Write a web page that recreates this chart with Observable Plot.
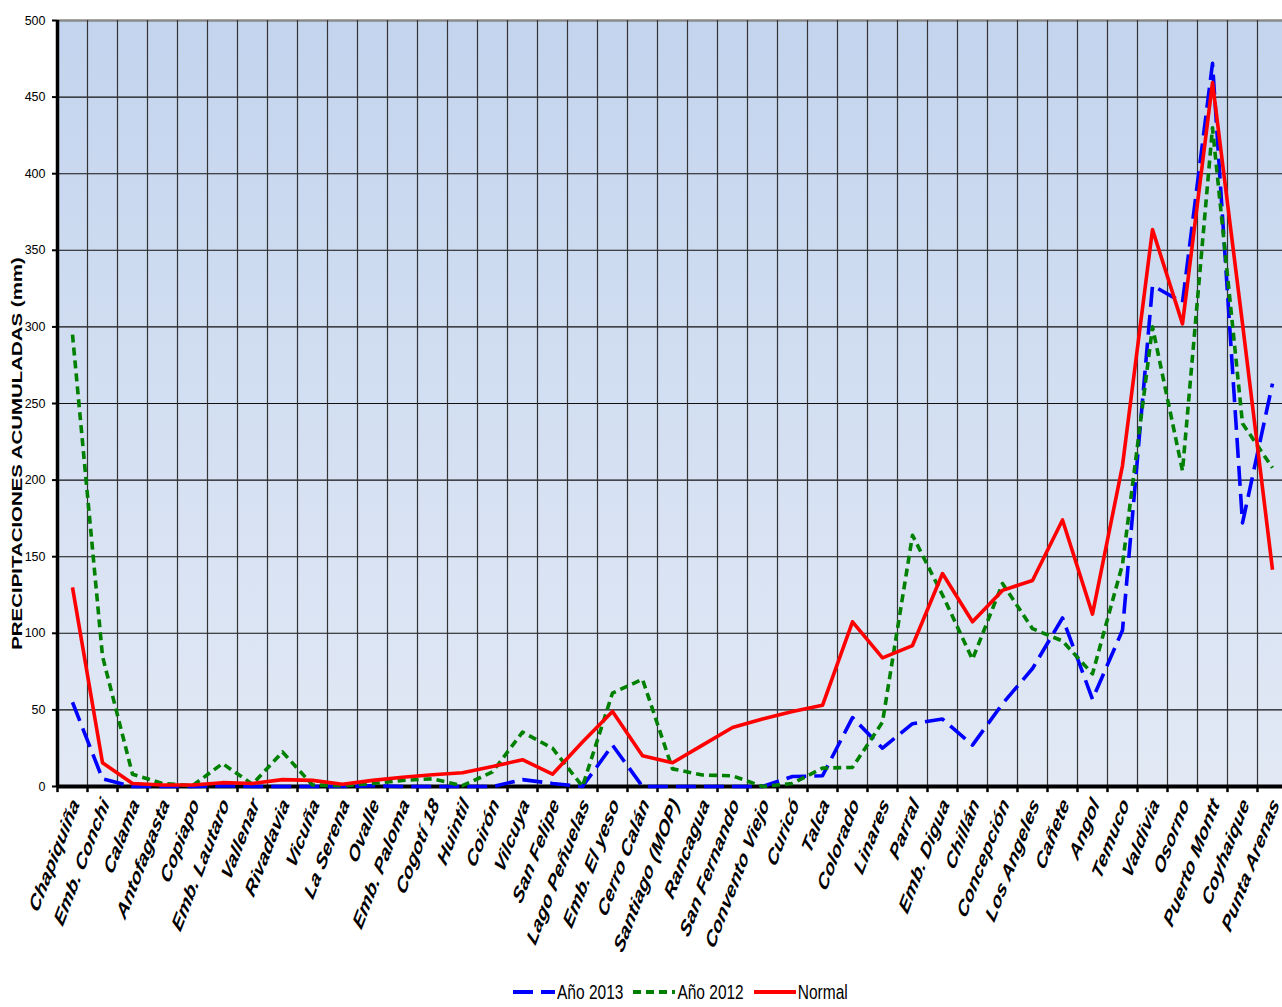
<!DOCTYPE html>
<html>
<head>
<meta charset="utf-8">
<script src="https://cdn.jsdelivr.net/npm/d3@7"></script>
<script src="https://cdn.jsdelivr.net/npm/@observablehq/plot@0.6"></script>
<style>
  html, body { margin: 0; padding: 0; background: #ffffff; color: #000; }
  body { width: 1282px; height: 1007px; overflow: hidden; position: relative; font-family: "Liberation Sans", Arial, sans-serif; }
  #chart svg { display: block; }
  #legend { position: absolute; left: 513px; top: 983px; display: flex; align-items: center; font-size: 15.5px; }
  #legend .item { display: flex; align-items: center; margin-right: 10px; }
  #legend .lab { display: inline-block; transform: scaleY(1.35); margin-left: 2px; }
</style>
</head>
<body>
<div id="chart"></div>
<div id="legend"></div>
<script>
const stations = ["Chapiquiña","Emb. Conchi","Calama","Antofagasta","Copiapo","Emb. Lautaro","Vallenar","Rivadavia","Vicuña","La Serena","Ovalle","Emb. Paloma","Cogotí 18","Huintil","Coirón","Vilcuya","San Felipe","Lago Peñuelas","Emb. El yeso","Cerro Calán","Santiago (MOP)","Rancagua","San Fernando","Convento Viejo","Curicó","Talca","Colorado","Linares","Parral","Emb. Digua","Chillán","Concepción","Los Angeles","Cañete","Angol","Temuco","Valdivia","Osorno","Puerto Montt","Coyhaique","Punta Arenas"];
const ano2013 = [55,5,0,0,0,0.5,0,0,0,0,0.5,0,0,0,0,4.5,2,0,27,0,0,0,0,0,6.5,7,45,25,41,44,27,54,77,110,57,102,327,316,472,172,263];
const ano2012 = [295,85,8,2,0.5,15,1.5,22.5,1,0.5,2,4,5,0.5,9.5,35.5,25,0,61,70,11.5,7.5,7,0,2,12,12.5,42,164,125,83,132.5,103,95,73.5,145,300,206,430,237,208];
const normal = [130,15.5,2,1,1,2.5,2,4.5,4,1.5,4,6,7.7,9,13,17.5,8,29,49,20,15.5,27,38.5,44,49,53,107.5,84,92,139,107.5,128,134.5,174,112.5,209.5,363.5,302,459.5,302,141.5];
const yTicks = [0,50,100,150,200,250,300,350,400,450,500];
const yTitle = "PRECIPITACIONES ACUMULADAS (mm)";
const seriesNames = ["Año 2013","Año 2012","Normal"];
const seriesColors = ["#0000ff","#008000","#ff0000"];
const seriesDash = ["20,8","8,5",null];

const toRows = vals => stations.map((s, i) => ({station: s, value: vals[i]}));
const seriesData = [toRows(ano2013), toRows(ano2012), toRows(normal)];

const W = 1282, H = 970;
const svg = Plot.plot({
  width: W,
  height: H,
  marginLeft: 57,
  marginRight: 0,
  marginTop: 20,
  marginBottom: H - 786,
  style: {fontFamily: "'Liberation Sans', Arial, sans-serif", fontSize: "12.5px", background: "transparent", color: "#000", overflow: "visible"},
  x: {type: "point", domain: stations, range: [57, 1287], padding: 0.5, axis: null},
  y: {domain: [0, 500], range: [786, 20], ticks: yTicks, tickSize: 5, tickPadding: 7, label: null, tickFormat: d => String(d)},
  marks: [
    Plot.frame({fill: "#cfdcf1", stroke: null, ariaLabel: "bgframe"}),
    Plot.ruleY(yTicks.filter(d => d > 0 && d < 500), {stroke: "#111", strokeWidth: 1.1}),
    Plot.ruleY([500], {stroke: "#8a8a8a", strokeWidth: 2.5}),
    Plot.ruleX(stations.slice(1), {x: d => d, dx: -15, stroke: "#333", strokeWidth: 1.2}),
    Plot.ruleX(stations, {x: d => d, dx: -15, y1: 0, y2: -4, stroke: "#000", strokeWidth: 2.5}),
    Plot.ruleX([stations[0]], {x: d => d, dx: -15, stroke: "#000", strokeWidth: 3.5}),
    Plot.ruleY([0], {stroke: "#000", strokeWidth: 4}),
    ...seriesData.map((rows, k) => Plot.line(rows, {
      x: "station", y: "value", stroke: seriesColors[k], strokeWidth: 3.6,
      strokeDasharray: seriesDash[k] || undefined, strokeLinejoin: "round", strokeLinecap: "butt"
    })),
    Plot.text(stations, {x: d => d, text: d => d, frameAnchor: "bottom", dy: 14, dx: 3, rotate: -60,
      textAnchor: "end", lineAnchor: "middle", fontWeight: "bold", fontStyle: "italic", fontSize: 15.5}),
    Plot.text([yTitle], {text: d => d, frameAnchor: "left", dx: -40, dy: 50, rotate: -90, textAnchor: "middle",
      lineAnchor: "middle", fontWeight: "bold", fontSize: 14})
  ]
});

const s = d3.select(svg);
s.insert("defs", ":first-child").html(
  '<linearGradient id="bgGrad" x1="0" y1="0" x2="0" y2="1">' +
  '<stop offset="0" stop-color="#c3d4ee"/><stop offset="1" stop-color="#e2e9f5"/></linearGradient>'
);
s.selectAll('[aria-label="bgframe"] rect, rect[aria-label="bgframe"]').attr("fill", "url(#bgGrad)");

// stretch the rotated texts vertically, as in the reference picture
const stationSet = new Set(stations);
function stretch(el, k) {
  let node = el;
  for (let depth = 0; depth < 2 && node; depth++, node = node.parentNode) {
    const t = node.getAttribute && node.getAttribute("transform");
    if (t && t.includes("rotate(")) {
      node.setAttribute("transform", t.replace("rotate(", `scale(1,${k}) rotate(`));
      return;
    }
  }
}
s.selectAll("text").each(function() {
  const txt = this.textContent;
  if (stationSet.has(txt)) stretch(this, 1.5);
  else if (txt === yTitle) stretch(this, 1.46);
});
s.selectAll('g[aria-label="y-axis tick"] path').attr("stroke-width", 2);

document.getElementById("chart").appendChild(svg);

// legend
const legend = d3.select("#legend");
seriesNames.forEach((name, k) => {
  const item = legend.append("div").attr("class", "item");
  const ls = item.append("svg").attr("width", 42).attr("height", 12);
  ls.append("line").attr("x1", 0).attr("x2", 42).attr("y1", 6).attr("y2", 6)
    .attr("stroke", seriesColors[k]).attr("stroke-width", 4)
    .attr("stroke-dasharray", seriesDash[k] || null);
  item.append("span").attr("class", "lab").text(name);
});
</script>
</body>
</html>
